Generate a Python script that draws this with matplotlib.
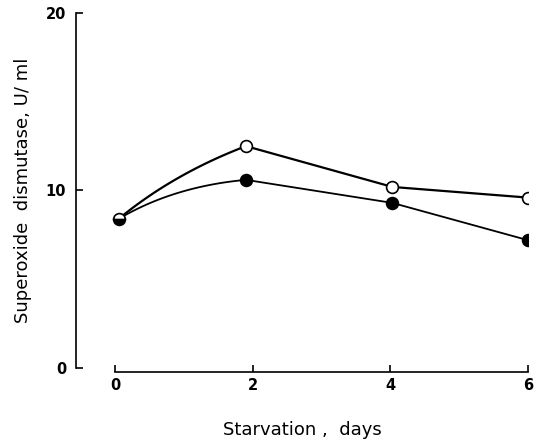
import numpy as np
import matplotlib

matplotlib.use("Agg")
import matplotlib.pyplot as plt

# values
days = [0.05, 1.9, 4.03, 6.0]
open_sod = [8.4, 12.5, 10.2, 9.6]
filled_sod = [8.4, 10.6, 9.3, 7.2]
x_ticks = [0, 2, 4, 6]
y_ticks = [0, 10, 20]


def bent_line(x, y, bend_x, bend_y, n=80):
    # first segment drawn as a quadratic bezier (hand-drawn arc), rest straight
    x = np.asarray(x, dtype=float)
    y = np.asarray(y, dtype=float)
    cx = x[0] + bend_x * (x[1] - x[0])
    cy = y[0] + bend_y * (y[1] - y[0])
    t = np.linspace(0, 1, n)
    bx = (1 - t) ** 2 * x[0] + 2 * (1 - t) * t * cx + t**2 * x[1]
    by = (1 - t) ** 2 * y[0] + 2 * (1 - t) * t * cy + t**2 * y[1]
    return np.concatenate([bx, x[2:]]), np.concatenate([by, y[2:]])


fig = plt.figure(figsize=(5.43, 4.44), dpi=100)
ax = fig.add_axes([76 / 543, 1 - 368 / 444, 452 / 543, 355 / 444])

for vals, lw, by in [(open_sod, 1.6, 0.62), (filled_sod, 1.3, 0.83)]:
    sx, sy = bent_line(days, vals, 0.43, by)
    ax.plot(sx, sy, color="black", lw=lw, zorder=2, solid_joinstyle="round")

ax.plot(days[1:], open_sod[1:], "o", ms=8.5, mfc="white", mec="black", mew=1.2, zorder=3)
ax.plot(days[1:], filled_sod[1:], "o", ms=8.5, mfc="black", mec="black", mew=1.2, zorder=3)
ax.plot(days[:1], open_sod[:1], "o", ms=8.5, fillstyle="bottom", mfc="black",
        mfcalt="white", mec="black", mew=1.2, zorder=4)

ax.set_xlim(-0.57, 6.0)
ax.set_ylim(0, 20)
ax.spines["top"].set_visible(False)
ax.spines["right"].set_visible(False)
ax.spines["left"].set_bounds(0, 20)
ax.spines["bottom"].set_bounds(0, 6)
ax.spines["bottom"].set_position(("outward", 3))
for side in ["left", "bottom"]:
    ax.spines[side].set_linewidth(1.2)

ax.set_xticks(x_ticks)
ax.set_yticks(y_ticks)
ax.tick_params(direction="in", length=5, width=1.2, labelsize=10.5)
ax.tick_params(axis="x", pad=4)
ax.tick_params(axis="y", pad=7)
for lab in ax.get_xticklabels() + ax.get_yticklabels():
    lab.set_fontweight("bold")

ax.set_xlabel("Starvation ,  days", fontsize=13, labelpad=20)
ax.set_ylabel("Superoxide  dismutase, U/ ml", fontsize=13, labelpad=10)

fig.savefig("out.png", dpi=100)
